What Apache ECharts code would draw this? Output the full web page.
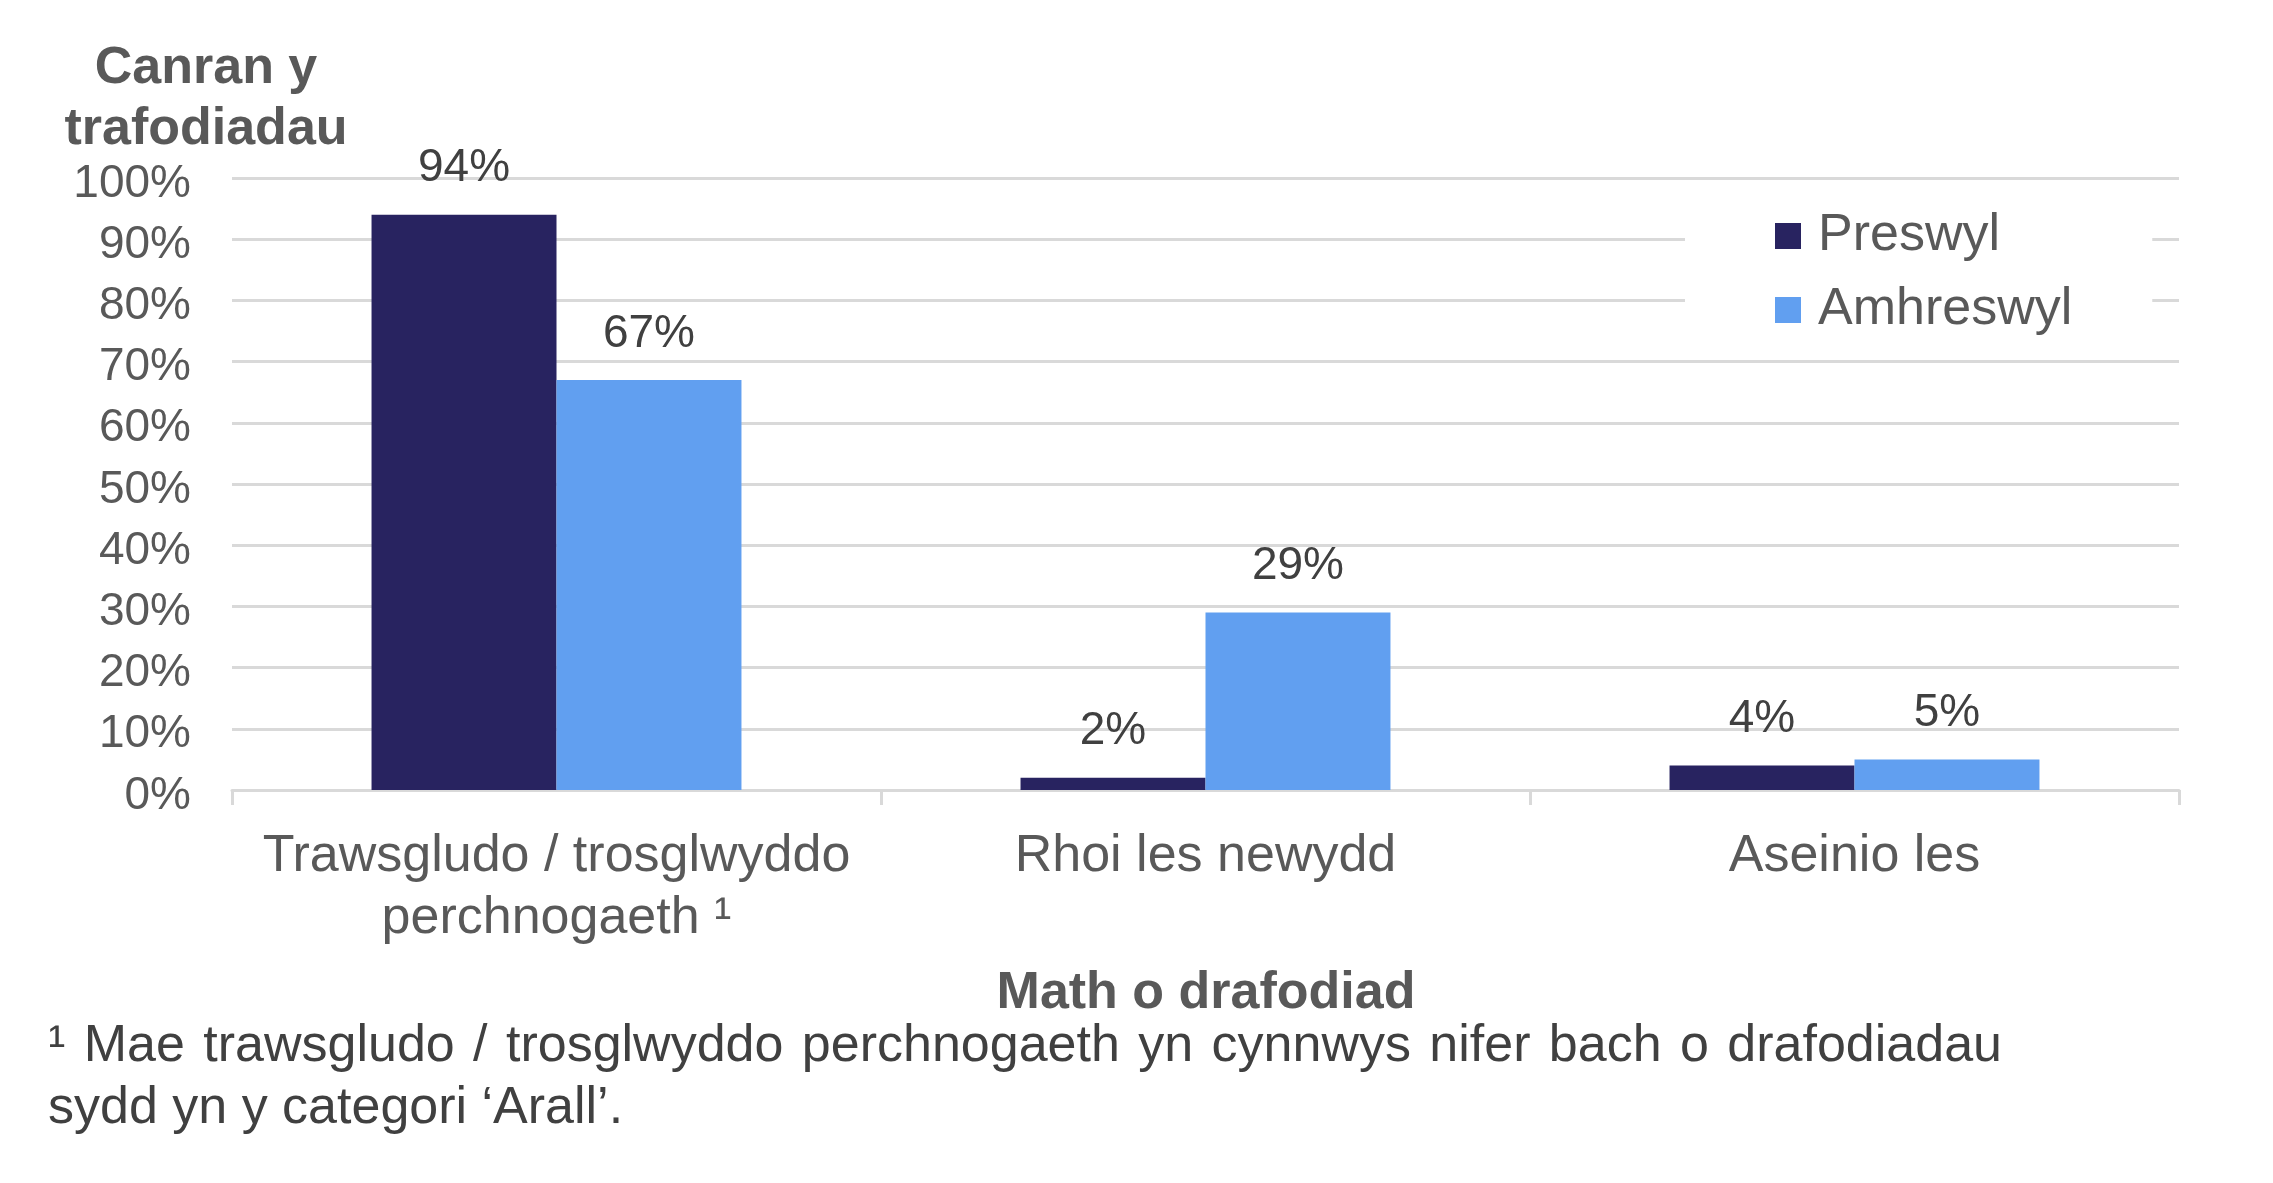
<!DOCTYPE html>
<html>
<head>
<meta charset="utf-8">
<script src="https://cdn.jsdelivr.net/npm/echarts@6/dist/echarts.min.js"></script>
<style>
  html, body { margin: 0; padding: 0; background: #fff; }
  #chart { width: 2273px; height: 1183px; }
</style>
</head>
<body>
<div id="chart"></div>
<script>
// categories and values
const categories = ['Trawsgludo / trosglwyddo\nperchnogaeth ¹', 'Rhoi les newydd', 'Aseinio les'];
const seriesNames = ['Preswyl', 'Amhreswyl'];
const preswyl = [94, 2, 4];
const amhreswyl = [67, 29, 5];
const yTicks = [0, 10, 20, 30, 40, 50, 60, 70, 80, 90, 100];

const yTitle = 'Canran y\ntrafodiadau';
const xTitle = 'Math o drafodiad';
const noteLine1 = '¹ Mae trawsgludo / trosglwyddo perchnogaeth yn cynnwys nifer bach o drafodiadau';
const noteLine2 = 'sydd yn y categori ‘Arall’.';

const FONT = '"Liberation Sans", Arial, sans-serif';
const grey = '#595959';
const dark = '#404040';
const gridCol = '#d9d9d9';

const chart = echarts.init(document.getElementById('chart'), null, { renderer: 'canvas' });

// bar label
function barLabel() {
  return {
    show: true,
    position: 'top',
    distance: 23,
    formatter: '{c}%',
    color: dark,
    fontSize: 46,
    lineHeight: 46,
    fontFamily: FONT
  };
}

// justified footnote line: words spread out to fill the width
function justifyLine(text, x0, x1, y, font) {
  const ctx = document.createElement('canvas').getContext('2d');
  ctx.font = font;
  const words = text.split(' ');
  const widths = words.map(w => ctx.measureText(w).width);
  const total = widths.reduce((a, b) => a + b, 0);
  const gap = (x1 - x0 - total) / (words.length - 1);
  let x = x0;
  return words.map((w, i) => {
    const el = {
      type: 'text', x: x, y: y,
      style: { text: w, fill: dark, font: font, align: 'left', verticalAlign: 'middle' }
    };
    x += widths[i] + gap;
    return el;
  });
}

const noteFont = '52px ' + FONT;

const option = {
  backgroundColor: '#fff',
  animation: false,
  grid: { left: 232, right: 94, top: 178, bottom: 393, containLabel: false },
  legend: {
    data: seriesNames,
    orient: 'vertical',
    left: 1685,
    top: 194,
    backgroundColor: '#fff',
    padding: [16, 80, 20, 90],
    itemWidth: 26,
    itemHeight: 26,
    itemGap: 22,
    icon: 'rect',
    textStyle: {
      color: grey,
      fontSize: 52,
      lineHeight: 52,
      fontFamily: FONT,
      padding: [0, 0, 0, 12]
    }
  },
  xAxis: {
    type: 'category',
    data: categories,
    axisLine: { show: true, lineStyle: { color: gridCol, width: 3 } },
    axisTick: { show: true, interval: 0, length: 15, lineStyle: { color: gridCol, width: 3 } },
    axisLabel: {
      interval: 0,
      color: grey,
      fontSize: 52,
      lineHeight: 62,
      margin: 36,
      fontFamily: FONT
    }
  },
  yAxis: {
    type: 'value',
    min: yTicks[0],
    max: yTicks[yTicks.length - 1],
    interval: 10,
    axisLine: { show: false },
    axisTick: { show: false },
    splitLine: { lineStyle: { color: gridCol, width: 3 } },
    axisLabel: {
      formatter: '{value}%',
      color: grey,
      fontSize: 46,
      lineHeight: 12,
      verticalAlign: 'top',
      margin: 41,
      fontFamily: FONT
    }
  },
  series: [
    {
      name: seriesNames[0],
      type: 'bar',
      data: preswyl,
      barWidth: '28.5%',
      barGap: '0%',
      itemStyle: { color: '#282360' },
      label: barLabel()
    },
    {
      name: seriesNames[1],
      type: 'bar',
      data: amhreswyl,
      barWidth: '28.5%',
      barGap: '0%',
      itemStyle: { color: '#619ff0' },
      label: barLabel()
    }
  ],
  graphic: [
    {
      type: 'text',
      x: 206,
      y: 38,
      style: {
        text: yTitle,
        fill: grey,
        font: 'bold 52px ' + FONT,
        lineHeight: 61,
        align: 'center',
        verticalAlign: 'top'
      }
    },
    {
      type: 'text',
      x: 1206,
      y: 994,
      style: {
        text: xTitle,
        fill: grey,
        font: 'bold 52px ' + FONT,
        align: 'center',
        verticalAlign: 'middle'
      }
    }
  ].concat(justifyLine(noteLine1, 48, 2002, 1047, noteFont), [
    {
      type: 'text',
      x: 48,
      y: 1109,
      style: {
        text: noteLine2,
        fill: dark,
        font: noteFont,
        align: 'left',
        verticalAlign: 'middle'
      }
    }
  ])
};

chart.setOption(option);
</script>
</body>
</html>
